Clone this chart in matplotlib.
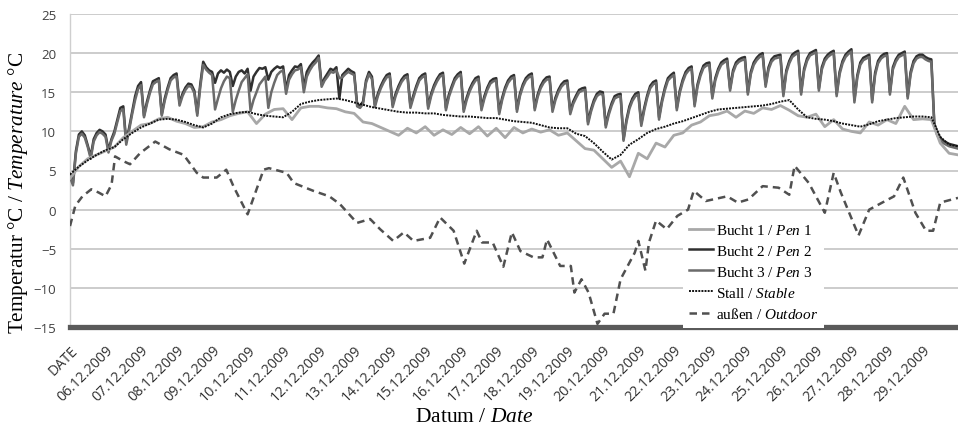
import numpy as np
import matplotlib
matplotlib.use('Agg')
import matplotlib.pyplot as plt
from matplotlib.lines import Line2D

plt.rcParams['mathtext.fontset'] = 'custom'
plt.rcParams['mathtext.rm'] = 'Liberation Serif'
plt.rcParams['mathtext.it'] = 'Liberation Serif:italic'

# ---------------- data ----------------
tick_labels = ["DATE", "06.12.2009", "07.12.2009", "08.12.2009", "09.12.2009", "10.12.2009",
               "11.12.2009", "12.12.2009", "13.12.2009", "14.12.2009", "15.12.2009",
               "16.12.2009", "17.12.2009", "18.12.2009", "19.12.2009", "20.12.2009",
               "21.12.2009", "22.12.2009", "23.12.2009", "24.12.2009", "25.12.2009",
               "26.12.2009", "27.12.2009", "28.12.2009", "29.12.2009"]

# pens 2 and 3: 12 readings per day (2-hourly), day 0 .. 25
bucht2 = [
    4.5, 3.4, 7.5, 9.6, 10.0, 9.5, 8.2, 6.8, 9.0, 9.8, 10.2, 10.0,
    9.6, 7.6, 9.0, 10.0, 11.5, 13.0, 13.2, 8.6, 10.5, 12.5, 14.5, 15.8,
    16.3, 12.0, 13.8, 15.2, 16.4, 16.6, 16.8, 12.2, 14.2, 15.6, 16.8, 17.2,
    17.4, 13.6, 14.8, 15.6, 16.1, 16.0, 15.2, 12.3, 16.0, 18.9, 18.2, 17.8,
    17.6, 16.2, 17.4, 17.8, 17.5, 17.9, 17.6, 15.8, 17.0, 17.6, 17.8, 17.4,
    18.0, 15.2, 17.0, 17.6, 18.1, 18.0, 18.2, 16.6, 17.6, 18.0, 18.3, 18.1,
    18.3, 15.3, 17.2, 17.8, 18.3, 18.2, 18.6, 15.6, 17.6, 18.3, 18.8, 19.2,
    19.7, 16.0, 16.8, 17.4, 18.0, 17.8, 18.2, 14.2, 17.2, 17.6, 18.0, 17.7,
    17.5, 13.5, 13.3, 13.8, 16.5, 17.6, 17.0, 13.4, 14.8, 15.8, 16.6, 17.2,
    17.4, 13.4, 14.8, 15.8, 16.6, 17.1, 17.3, 13.3, 14.6, 15.8, 16.8, 17.2,
    17.4, 13.2, 14.8, 15.9, 16.7, 17.3, 17.5, 13.0, 14.7, 15.8, 16.8, 17.3,
    17.6, 12.8, 14.3, 15.4, 16.2, 16.8, 17.0, 13.0, 14.5, 15.6, 16.4, 16.7,
    16.8, 12.5, 14.3, 15.6, 16.5, 17.0, 17.2, 12.8, 14.8, 16.0, 16.8, 17.2,
    17.4, 13.0, 14.7, 15.8, 16.5, 16.9, 17.0, 12.8, 14.3, 15.3, 16.0, 16.4,
    16.5, 12.5, 13.8, 14.6, 15.3, 15.5, 15.6, 11.2, 12.8, 14.0, 14.8, 15.1,
    15.0, 10.8, 12.4, 13.6, 14.5, 14.7, 14.8, 9.0, 11.5, 13.2, 14.2, 14.8,
    15.0, 11.0, 13.0, 14.6, 15.8, 16.3, 16.5, 11.8, 14.0, 15.6, 16.8, 17.2,
    17.5, 13.0, 15.2, 16.6, 17.6, 18.1, 18.3, 13.5, 16.0, 17.4, 18.4, 18.7,
    18.8, 14.5, 16.8, 18.0, 18.8, 19.1, 19.3, 15.5, 17.8, 18.8, 19.2, 19.4,
    19.5, 15.0, 17.6, 18.8, 19.4, 19.8, 20.0, 16.0, 18.2, 19.2, 19.6, 19.7,
    19.8, 14.8, 17.8, 19.0, 19.8, 20.1, 20.3, 15.0, 18.0, 19.3, 20.0, 20.2,
    20.4, 15.5, 18.2, 19.3, 19.8, 20.1, 20.3, 14.8, 17.6, 19.0, 19.8, 20.2,
    20.5, 14.0, 17.2, 18.8, 19.4, 19.6, 19.8, 14.0, 17.5, 19.0, 19.6, 19.9,
    20.0, 15.0, 18.2, 19.2, 19.8, 20.0, 20.2, 14.5, 17.6, 19.0, 19.6, 19.8,
    19.8, 19.5, 19.3, 19.2, 11.0, 9.8, 9.2, 8.8, 8.6, 8.4, 8.3, 8.2,
    8.1]

bucht3 = [
    4.2, 3.1, 7.2, 9.3, 9.7, 9.2, 8.0, 6.5, 8.7, 9.5, 9.9, 9.7,
    9.3, 7.3, 8.8, 9.7, 11.2, 12.6, 12.8, 8.3, 10.2, 12.2, 14.0, 15.4,
    15.9, 11.8, 13.5, 14.9, 16.0, 16.3, 16.5, 12.0, 13.9, 15.3, 16.5, 16.9,
    17.0, 13.3, 14.5, 15.3, 15.8, 15.7, 14.9, 12.0, 15.6, 18.5, 17.9, 17.5,
    17.2, 12.8, 14.2, 15.5, 16.4, 17.0, 16.8, 12.5, 14.0, 15.2, 16.3, 16.8,
    17.3, 12.6, 14.0, 15.0, 16.0, 16.5, 17.0, 13.0, 15.0, 16.2, 17.2, 17.6,
    17.8, 14.8, 16.6, 17.3, 17.8, 17.9, 18.2, 15.0, 17.0, 17.8, 18.4, 18.8,
    19.4, 15.7, 16.5, 17.0, 17.6, 17.5, 17.8, 16.8, 16.9, 17.3, 17.6, 17.4,
    17.2, 13.2, 13.0, 13.5, 16.2, 17.3, 16.7, 13.1, 14.5, 15.5, 16.3, 16.9,
    17.1, 13.1, 14.5, 15.5, 16.3, 16.8, 17.0, 13.0, 14.3, 15.5, 16.5, 16.9,
    17.1, 12.9, 14.5, 15.6, 16.4, 17.0, 17.2, 12.7, 14.4, 15.5, 16.5, 17.0,
    17.3, 12.5, 14.0, 15.1, 15.9, 16.5, 16.7, 12.7, 14.2, 15.3, 16.1, 16.4,
    16.5, 12.2, 14.0, 15.3, 16.2, 16.7, 16.9, 12.5, 14.5, 15.7, 16.5, 16.9,
    17.1, 12.7, 14.4, 15.5, 16.2, 16.6, 16.7, 12.5, 14.0, 15.0, 15.7, 16.1,
    16.2, 12.2, 13.5, 14.3, 15.0, 15.2, 15.3, 10.9, 12.5, 13.7, 14.5, 14.8,
    14.7, 10.5, 12.1, 13.3, 14.2, 14.4, 14.5, 8.8, 11.2, 12.9, 13.9, 14.5,
    14.7, 10.7, 12.7, 14.3, 15.5, 16.0, 16.2, 11.5, 13.7, 15.3, 16.5, 16.9,
    17.2, 12.7, 14.9, 16.3, 17.3, 17.8, 18.0, 13.2, 15.7, 17.1, 18.1, 18.4,
    18.5, 14.2, 16.5, 17.7, 18.5, 18.8, 19.0, 15.2, 17.5, 18.5, 18.9, 19.1,
    19.2, 14.7, 17.3, 18.5, 19.1, 19.5, 19.7, 15.7, 17.9, 18.9, 19.3, 19.4,
    19.5, 14.5, 17.5, 18.7, 19.5, 19.8, 20.0, 14.7, 17.7, 19.0, 19.7, 19.9,
    20.1, 15.2, 17.9, 19.0, 19.5, 19.8, 20.0, 14.5, 17.3, 18.7, 19.5, 19.9,
    20.2, 13.7, 16.9, 18.5, 19.1, 19.3, 19.5, 13.7, 17.2, 18.7, 19.3, 19.6,
    19.7, 14.7, 17.9, 18.9, 19.5, 19.7, 19.9, 14.2, 17.3, 18.7, 19.3, 19.5,
    19.5, 19.2, 19.0, 18.9, 10.7, 9.5, 8.9, 8.5, 8.3, 8.1, 8.0, 7.9,
    7.8]

# pen 1 and stable: 4 readings per day (6-hourly), day 0 .. 25
bucht1 = [
    4.0, 5.5, 6.5, 7.0, 7.5, 8.0, 9.2, 10.0, 10.8, 11.0, 11.6, 11.8,
    11.3, 11.0, 10.5, 10.6, 11.2, 11.5, 12.0, 12.3, 12.5, 11.0, 12.2, 12.8,
    12.9, 11.5, 13.0, 13.2, 13.2, 13.0, 12.9, 12.5, 12.3, 11.2, 11.0, 10.5,
    10.0, 9.5, 10.4, 9.8, 10.6, 9.5, 10.2, 9.6, 10.5, 9.7, 10.6, 9.4,
    10.4, 9.2, 10.5, 9.8, 10.3, 9.9, 10.2, 9.5, 9.8, 8.8, 7.8, 7.6,
    6.5, 5.4, 6.2, 4.2, 7.2, 6.5, 8.5, 8.0, 9.5, 9.8, 10.8, 11.2,
    12.0, 12.2, 12.6, 11.8, 12.6, 12.3, 13.0, 12.8, 13.3, 12.7, 12.0, 11.8,
    12.2, 10.6, 11.5, 10.3, 10.0, 9.8, 11.2, 10.8, 11.5, 11.0, 13.2, 11.5,
    11.6, 11.5, 8.5, 7.2, 7.0]

stall = [
    4.5, 5.5, 6.3, 7.0, 7.6, 8.0, 9.0, 9.8, 10.5, 11.0, 11.5, 11.6,
    11.5, 11.2, 10.8, 10.5, 11.0, 11.8, 12.2, 12.4, 12.5, 12.2, 12.0, 11.9,
    11.8, 12.5, 13.5, 13.8, 14.0, 14.1, 14.2, 14.0, 13.7, 13.4, 13.1, 12.9,
    12.7, 12.5, 12.4, 12.4, 12.3, 12.3, 12.1, 12.0, 11.9, 11.9, 11.8, 11.7,
    11.7, 11.5, 11.3, 11.2, 11.1, 10.8, 10.5, 10.4, 10.4, 9.7, 9.4, 8.5,
    7.4, 6.4, 7.0, 8.3, 9.0, 9.8, 10.3, 10.6, 11.0, 11.3, 11.7, 12.1,
    12.5, 12.8, 12.9, 13.0, 13.1, 13.2, 13.3, 13.5, 13.8, 14.0, 12.8, 11.8,
    11.6, 11.5, 11.3, 11.0, 10.8, 10.6, 10.9, 11.3, 11.5, 11.7, 11.8, 11.9,
    11.9, 11.8, 9.3, 8.3, 8.1]

outdoor_day = [0.0, 0.15, 0.35, 0.6, 0.8, 1.0, 1.17, 1.27, 1.5, 1.69, 1.97, 2.4, 2.8, 3.2,
               3.57, 3.75, 4.13, 4.4, 4.6, 5.0, 5.45, 5.6, 6.1, 6.3, 6.85, 7.3, 7.6, 8.08,
               8.45, 8.73, 9.1, 9.4, 9.67, 10.14, 10.42, 10.8, 11.1, 11.45, 11.6, 11.9,
               12.2, 12.44, 12.68, 13.05, 13.3, 13.43, 13.8, 14.1, 14.2, 14.4, 14.6, 14.85,
               15.05, 15.3, 15.5, 15.9, 16.0, 16.2, 16.3, 16.5, 16.8, 17.1, 17.4, 17.56,
               17.9, 18.5, 18.8, 19.1, 19.5, 19.95, 20.25, 20.4, 20.8, 21.25, 21.5, 21.7,
               22.2, 22.5, 22.95, 23.2, 23.46, 23.8, 24.1, 24.3, 24.5, 25.0]
outdoor = [-2.1, 0.5, 1.7, 2.6, 2.2, 1.7, 3.2, 6.8, 6.2, 5.8, 7.2, 8.7, 7.7, 7.0,
           4.7, 4.1, 4.1, 5.1, 3.0, -0.6, 5.1, 5.3, 4.7, 3.4, 2.4, 1.7, 0.7, -1.7,
           -1.2, -2.5, -4.0, -2.9, -4.0, -3.6, -1.0, -2.7, -6.9, -2.7, -4.2, -4.2,
           -7.3, -2.9, -5.3, -6.1, -6.1, -3.8, -7.2, -7.2, -10.6, -8.9, -10.6, -14.6,
           -13.3, -13.3, -8.9, -5.5, -4.0, -7.8, -4.2, -1.4, -2.5, -0.8, 0.0, 2.4,
           1.1, 1.7, 0.9, 1.3, 3.0, 2.8, 1.9, 5.6, 3.4, -0.4, 4.7, 2.2,
           -3.3, 0.0, 1.1, 1.7, 4.1, -0.4, -2.7, -2.7, 0.9, 1.5]

t12 = np.arange(len(bucht2)) / 12.0
t4 = np.arange(len(bucht1)) / 4.0

# ---------------- figure ----------------
fig = plt.figure(figsize=(9.58, 4.31), dpi=100)
ax = fig.add_axes([70/958, 103/431, 888/958, 313/431])

ax.set_xlim(0, 25)
ax.set_ylim(-15, 25)
ax.set_yticks(np.arange(-15, 26, 5))
for v in np.arange(-10, 26, 5):
    ax.axhline(v, color='#c8c8c8', lw=1.3, zorder=0)
ax.axhline(-15, color='#5a5a5a', lw=3.8, zorder=5, clip_on=False)

for s in ['top', 'right', 'bottom']:
    ax.spines[s].set_visible(False)
ax.spines['left'].set_color('#cfcfcf')
ax.spines['left'].set_linewidth(1.0)

ax.plot(t12, bucht2, color='#303030', lw=1.8, zorder=3)
ax.plot(t12, bucht3, color='#6b6b6b', lw=1.8, zorder=3)
ax.plot(t4, bucht1, color='#a8a8a8', lw=2.0, zorder=3)
ax.plot(t4, stall, color='#111111', lw=1.4, ls=(0, (1, 0.6)), zorder=4)
ax.plot(outdoor_day, outdoor, color='#505050', lw=1.8, ls=(0, (3, 2)), zorder=4)

ax.set_xticks(np.arange(len(tick_labels)))
ax.set_xticklabels(tick_labels, rotation=45, ha='right', rotation_mode='anchor',
                   fontsize=10.2, family='Open Sans', color='#303030')
ax.tick_params(axis='x', length=0, pad=11)
ax.tick_params(axis='y', length=0, pad=10, labelsize=9.5, labelcolor='#404040')
for lab in ax.get_yticklabels():
    lab.set_family('Open Sans')

fig.text(18/958, 1 - 193/431, r'Temperatur °C / $\mathit{Temperature}$ °C', rotation=90,
         ha='center', va='center', family='Liberation Serif', fontsize=15.3)
fig.text(474/958, 1 - 418/431, r'Datum / $\mathit{Date}$', ha='center', va='center',
         family='Liberation Serif', fontsize=15.5)

handles = [Line2D([], [], color='#a8a8a8', lw=2.0),
           Line2D([], [], color='#303030', lw=1.8),
           Line2D([], [], color='#6b6b6b', lw=1.8),
           Line2D([], [], color='#111111', lw=1.4, ls=(0, (1, 0.6))),
           Line2D([], [], color='#505050', lw=1.8, ls=(0, (3, 2)))]
labels = [r'Bucht 1 / $\mathit{Pen\ 1}$', r'Bucht 2 / $\mathit{Pen\ 2}$',
          r'Bucht 3 / $\mathit{Pen\ 3}$', r'Stall / $\mathit{Stable}$',
          r'außen / $\mathit{Outdoor}$']
leg = ax.legend(handles, labels, loc='upper left', bbox_to_anchor=(0.690, 0.352),
                borderaxespad=0, frameon=True, facecolor='white', edgecolor='none',
                framealpha=1, fancybox=False, handlelength=1.6, handletextpad=0.15,
                labelspacing=0.45, borderpad=0.4,
                prop={'family': 'Liberation Serif', 'size': 11})
leg.set_zorder(6)

fig.savefig('out.png', dpi=100)
